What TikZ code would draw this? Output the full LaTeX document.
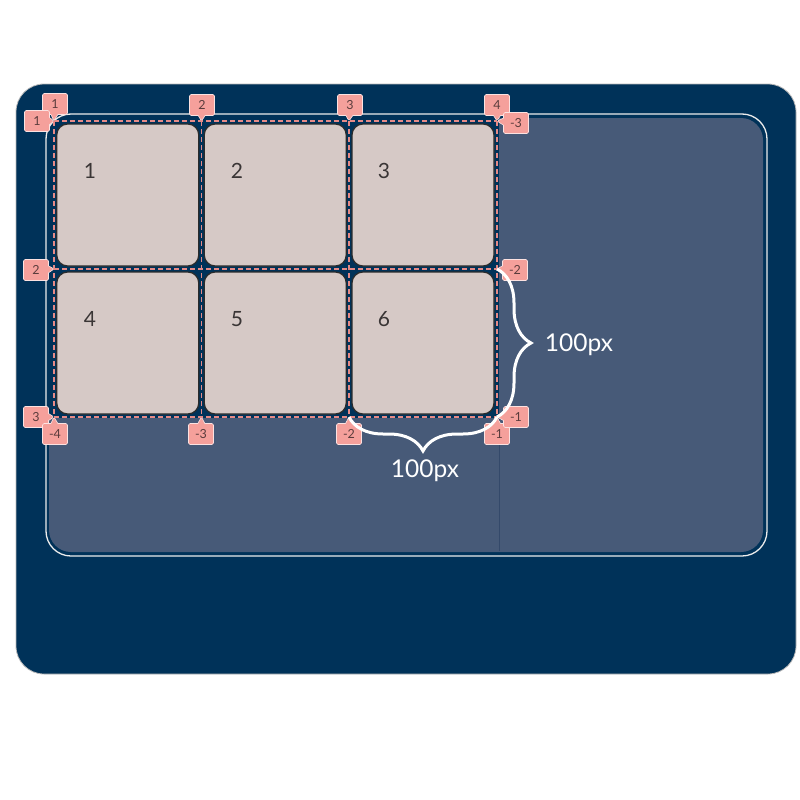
\documentclass[tikz,border=0pt]{standalone}
\usepackage{fontspec}
\setmainfont{Lato}
\usetikzlibrary{decorations.pathreplacing,shapes.callouts}
\definecolor{outerbg}{HTML}{003259}
\definecolor{fillblue}{HTML}{475A78}
\definecolor{itemfill}{HTML}{D6C9C6}
\definecolor{itemline}{HTML}{2B2B2B}
\definecolor{badgepink}{HTML}{F5A09B}
\definecolor{badgetext}{HTML}{5A3C3C}
\definecolor{gridpink}{HTML}{E58A87}
\definecolor{sepline}{HTML}{34496A}
\definecolor{numtext}{HTML}{3A3535}
\tikzset{
  itembox/.style={fill=itemfill, draw=itemline, line width=1.2pt, rounded corners=11pt,
    minimum width=142pt, minimum height=142pt, inner sep=0pt},
  itemnum/.style={text=numtext, font=\fontsize{21}{25}\selectfont, inner sep=0pt},
  gridline/.style={gridpink, line width=1.2pt, dash pattern=on 5pt off 3pt},
  badge/.style={rectangle callout, fill=badgepink, draw=white!70!badgepink, line width=0.6pt,
    rounded corners=1.5pt, minimum width=25pt, minimum height=21pt, inner sep=0pt,
    callout pointer width=7pt, text=badgetext, font=\fontsize{12.5}{14}\selectfont},
  bracestyle/.style={white, line width=3pt, decorate, decoration={brace, amplitude=34pt}},
  bracelabel/.style={text=white, font=\fontsize{24.5}{28}\selectfont, inner sep=0pt}
}
\begin{document}
\begin{tikzpicture}[x=1pt,y=-1pt]
\useasboundingbox (0,0) rectangle (800,800);
\fill[white] (0,0) rectangle (800,800);
% outer box
\draw[fill=outerbg, draw=gray!55, line width=0.8pt, rounded corners=28pt] (16,84) rectangle (796,674);
% container fill
\fill[fillblue, rounded corners=22pt] (49,118) rectangle (763,552);
% grid area
\fill[outerbg] (47,115) rectangle (499,418);
\draw[sepline, line width=0.8pt] (499,418) -- (499,551);
% container outline
\draw[white!85!gray, line width=1.3pt, rounded corners=25pt] (46,114) rectangle (767,556);
% grid coordinates
\foreach \c/\x in {1/54,2/201.5,3/349,4/497}{
  \foreach \r/\y in {1/121,2/269,3/417}{
    \coordinate (g\r\c) at (\x,\y);
  }
}
% items
\node[itembox] (i1) at (127.75,195) {};
\node[itembox] (i2) at (275.25,195) {};
\node[itembox] (i3) at (423,195) {};
\node[itembox] (i4) at (127.75,343) {};
\node[itembox] (i5) at (275.25,343) {};
\node[itembox] (i6) at (423,343) {};
\node[itemnum] (n1) at (90,171) {1};
\node[itemnum] (n2) at (237,171) {2};
\node[itemnum] (n3) at (384,171) {3};
\node[itemnum] (n4) at (90,319) {4};
\node[itemnum] (n5) at (237,319) {5};
\node[itemnum] (n6) at (384,319) {6};
% grid lines
\foreach \c in {1,2,3,4}{ \draw[gridline] (g1\c) -- (g3\c); }
\foreach \r in {1,2,3}{ \draw[gridline] (g\r1) -- (g\r4); }
% badges: column lines top
\node[badge, callout absolute pointer={(g11)}] (bt1) at (55,104) {1};
\node[badge, callout absolute pointer={(g12)}] (bt2) at (202,105) {2};
\node[badge, callout absolute pointer={(g13)}] (bt3) at (350,105) {3};
\node[badge, callout absolute pointer={(g14)}] (bt4) at (497,105) {4};
% row lines left
\node[badge, callout absolute pointer={(g11)}] (bl1) at (37,121) {1};
\node[badge, callout absolute pointer={(g21)}] (bl2) at (36,270) {2};
\node[badge, callout absolute pointer={(g31)}] (bl3) at (36,417) {3};
% negative bottom
\node[badge, callout absolute pointer={(g31)}] (bb4) at (55,434) {-4};
\node[badge, callout absolute pointer={(g32)}] (bb3) at (201,434) {-3};
\node[badge, callout absolute pointer={(g33)}] (bb2) at (349,434) {-2};
\node[badge, callout absolute pointer={(g34)}] (bb1) at (497,434) {-1};
% negative right
\node[badge, callout absolute pointer={(g14)}] (br3) at (516,123) {-3};
\node[badge, callout absolute pointer={(g24)}] (br2) at (515,270) {-2};
\node[badge, callout absolute pointer={(g34)}] (br1) at (516,417) {-1};
% braces
\draw[bracestyle] (g24) -- (g34);
\draw[bracestyle] (g34) -- (g33);
\node[bracelabel] (lr) at (579,345) {100px};
\node[bracelabel] (lb) at (425,471) {100px};
\end{tikzpicture}
\end{document}
